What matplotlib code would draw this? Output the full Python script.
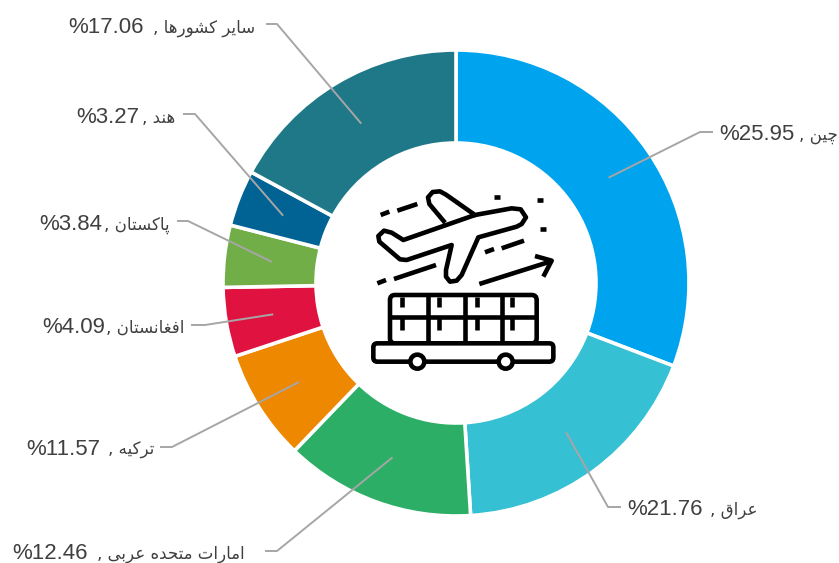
import numpy as np
import matplotlib
matplotlib.use("Agg")
import matplotlib.pyplot as plt
from matplotlib.patches import FancyBboxPatch, Circle

# names and the percentages printed in the labels
countries = ["چین", "عراق", "امارات متحده عربی", "ترکیه", "افغانستان", "پاکستان", "هند", "سایر کشورها"]
label_values = ["25.95", "21.76", "12.46", "11.57", "4.09", "3.84", "3.27", "17.06"]

# slice sizes as drawn in the picture (they do not follow the printed labels)
slice_sizes = [30.8, 18.2, 13.2, 7.7, 4.8, 4.3, 3.9, 17.1]
colors = ["#00A3EE", "#36C0D4", "#2DAE66", "#EE8800", "#E0123F", "#72AE48", "#006393", "#1F7888"]

# layout in pixels, y counted from the top
W, H = 839, 563
cx, cy = 456, 283
r_out, r_in = 233, 140
# elbow x, elbow y, end of the short horizontal piece
elbows = [(700, 132, 712), (608, 507, 620), (277, 551, 266), (172, 447, 161),
          (205, 325, 192), (188, 221, 178), (195, 114, 184), (277, 24, 267)]
# left edge of the number, right edge of the name, baseline y
text_pos = [(719, 838, 140), (627, 757, 515), (12, 245, 559), (26, 154, 455),
            (42, 184, 333), (39, 170, 230), (76, 175, 123), (68, 255, 33)]

# matplotlib does no arabic shaping so map letters to presentation forms by hand
# letter: isolated, final, initial, medial
forms = {
    "ا": (0xFE8D, 0xFE8E), "د": (0xFEA9, 0xFEAA), "ر": (0xFEAD, 0xFEAE), "و": (0xFEED, 0xFEEE),
    "ب": (0xFE8F, 0xFE90, 0xFE91, 0xFE92), "پ": (0xFB56, 0xFB57, 0xFB58, 0xFB59),
    "ت": (0xFE95, 0xFE96, 0xFE97, 0xFE98), "چ": (0xFB7A, 0xFB7B, 0xFB7C, 0xFB7D),
    "ح": (0xFEA1, 0xFEA2, 0xFEA3, 0xFEA4), "س": (0xFEB1, 0xFEB2, 0xFEB3, 0xFEB4),
    "ش": (0xFEB5, 0xFEB6, 0xFEB7, 0xFEB8), "ع": (0xFEC9, 0xFECA, 0xFECB, 0xFECC),
    "غ": (0xFECD, 0xFECE, 0xFECF, 0xFED0), "ف": (0xFED1, 0xFED2, 0xFED3, 0xFED4),
    "ق": (0xFED5, 0xFED6, 0xFED7, 0xFED8), "ک": (0xFB8E, 0xFB8F, 0xFB90, 0xFB91),
    "م": (0xFEE1, 0xFEE2, 0xFEE3, 0xFEE4), "ن": (0xFEE5, 0xFEE6, 0xFEE7, 0xFEE8),
    "ه": (0xFEE9, 0xFEEA, 0xFEEB, 0xFEEC), "ی": (0xFBFC, 0xFBFD, 0xFBFE, 0xFBFF),
}

def shape(text):
    out = []
    for i, ch in enumerate(text):
        if ch not in forms:
            out.append(ch)
            continue
        prev_joins = i > 0 and text[i - 1] in forms and len(forms[text[i - 1]]) == 4
        next_joins = i < len(text) - 1 and text[i + 1] in forms and len(forms[ch]) == 4
        f = forms[ch]
        if prev_joins and next_joins:
            code = f[3]
        elif next_joins:
            code = f[2]
        elif prev_joins:
            code = f[1]
        else:
            code = f[0]
        out.append(chr(code))
    return "".join(out[::-1])

fig = plt.figure(figsize=(W / 100, H / 100), dpi=100)
ax = fig.add_axes([0, 0, 1, 1])

wedges, _ = ax.pie(slice_sizes, colors=colors, startangle=90, counterclock=False,
                   center=(cx, H - cy), radius=r_out,
                   wedgeprops=dict(width=r_out - r_in, edgecolor="white", linewidth=2.6))
ax.set_xlim(0, W)
ax.set_ylim(0, H)
ax.axis("off")

line_color = "#A6A6A6"
text_color = "#404040"

for i, w in enumerate(wedges):
    mid = np.radians((w.theta1 + w.theta2) / 2)
    # leader starts at 80% of the outer radius, in the middle of the slice
    sx = cx + 0.8 * r_out * np.cos(mid)
    sy = H - cy + 0.8 * r_out * np.sin(mid)
    ex, ey, end = elbows[i]
    ax.plot([sx, ex, end], [sy, H - ey, H - ey], color=line_color, lw=1.4, zorder=3)

    left, right, ty = text_pos[i]
    ax.text(left, H - ty, "%" + label_values[i], ha="left", va="baseline",
            fontsize=16, color=text_color, family=["Liberation Sans", "DejaVu Sans"])
    ax.text(right, H - ty, ", " + shape(countries[i]), ha="right", va="baseline",
            fontsize=12, color=text_color, family="DejaVu Sans")

# icon in the hole, coordinates from a 3x crop starting at (360, 180)
def ix(x):
    return 360 + np.array(x) / 3

def iy(y):
    return H - (180 + np.array(y) / 3)

def stroke(pts, lw=3.3):
    xs, ys = zip(*pts)
    ax.plot(ix(xs), iy(ys), color="black", lw=lw, solid_capstyle="butt", solid_joinstyle="round", zorder=4)

plane = [(255, 128), (208, 72), (204, 52), (218, 36), (240, 34), (258, 44), (345, 105), (455, 85),
         (482, 88), (498, 112), (485, 132), (470, 140), (355, 172), (305, 285), (290, 302), (270, 305),
         (258, 290), (258, 270), (275, 195), (140, 240), (120, 238), (58, 185), (55, 168), (72, 152),
         (95, 158), (130, 180), (345, 105)]
stroke(plane)
dashes = [[(62, 105), (88, 95)], [(112, 92), (172, 72)], [(375, 217), (402, 207)], [(425, 205), (492, 182)],
          [(52, 310), (78, 300)], [(102, 297), (228, 255)], [(358, 312), (570, 245)],
          [(525, 228), (575, 242), (550, 290)],
          [(402, 50), (420, 50)], [(531, 60), (550, 60)], [(539, 148), (558, 148)]]
for d in dashes:
    stroke(d)

box = FancyBboxPatch((ix(90), iy(490)), 440 / 3, 145 / 3, boxstyle="round,pad=0,rounding_size=5",
                     fc="none", ec="black", lw=3.3, zorder=4)
ax.add_patch(box)
deck = FancyBboxPatch((ix(40), iy(545)), 540 / 3, 55 / 3, boxstyle="round,pad=0,rounding_size=4",
                      fc="white", ec="black", lw=3.3, zorder=4)
ax.add_patch(deck)
stroke([(90, 412), (530, 412)])
for x in (205, 315, 425):
    stroke([(x, 345), (x, 490)])
for x in (125, 237, 350, 455):
    stroke([(x, 350), (x, 382)])
    stroke([(x, 415), (x, 450)])
for x in (172, 437):
    ax.add_patch(Circle((ix(x), iy(545)), 7, fc="white", ec="black", lw=3.3, zorder=5))

fig.savefig("out.png", dpi=100)
